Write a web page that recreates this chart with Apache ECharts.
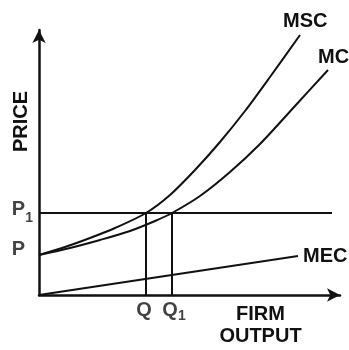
<!DOCTYPE html>
<html><head><meta charset="utf-8">
<script src="https://cdn.jsdelivr.net/npm/echarts@6/dist/echarts.min.js"></script>
<style>html,body{margin:0;padding:0;background:#fff}#c{width:349px;height:350px}</style>
</head><body><div id="c"></div>
<script>
// Values (x: firm output, y: price), arbitrary units
const P = 40;
const P1 = 82;
const Q = 107;
const Q1 = 133;
const P1_END = 293;
const MSC_X = [0, 26, 51, 76, 107, 131, 156, 181, 206, 231, 261];
const MSC_Y = [40, 48, 57, 67, 82, 100, 125, 153, 184, 218, 260];
const MC_X = [0, 31, 61, 91, 116, 133, 161, 191, 221, 256, 289];
const MC_Y = [40, 47, 55, 64, 74, 82, 99, 123, 151, 189, 225];
const MEC_X = [0, 259];
const MEC_Y = [0, 39];
const X_MAX = 301;
const Y_MAX = 265;

const FONT = "'Liberation Sans', Arial, sans-serif";
const INK = '#111';
const WEIGHT = 'bold';

function pairs(xs, ys) { return xs.map((x, i) => [x, ys[i]]); }
const lineStyle = { color: INK, width: 2 };
function lineSeries(data, smooth, endText, endOffset) {
  const s = { type: 'line', data: data, smooth: smooth, showSymbol: false,
    symbol: 'none', lineStyle: lineStyle, silent: true, animation: false, z: 3 };
  if (endText) {
    s.endLabel = { show: true, formatter: endText, offset: endOffset, color: INK,
      fontFamily: FONT, fontSize: 20, fontWeight: WEIGHT };
  }
  return s;
}
const rich = {
  a: { fontSize: 20, color: INK, fontFamily: FONT, fontWeight: WEIGHT },
  b: { fontSize: 14, color: INK, fontFamily: FONT, fontWeight: WEIGHT, padding: [12, 0, 0, 0] },
  c: { fontSize: 14, color: INK, fontFamily: FONT, fontWeight: WEIGHT, padding: [18, 0, 0, 0] }
};

const chart = echarts.init(document.getElementById('c'), null, { renderer: 'canvas' });
chart.setOption({
  animation: false,
  grid: { left: 39, top: 30, width: 301, height: 265, containLabel: false, outerBoundsMode: 'none' },
  xAxis: {
    type: 'value', min: 0, max: X_MAX,
    axisLine: { show: true, lineStyle: { color: INK, width: 2.5 }, symbol: ['none', 'arrow'], symbolSize: [10, 13] },
    axisTick: { show: false }, axisLabel: { show: false }, splitLine: { show: false },
    name: 'FIRM\nOUTPUT', nameLocation: 'middle', nameGap: 8,
    nameTextStyle: { color: INK, fontFamily: FONT, fontSize: 20, fontWeight: WEIGHT, lineHeight: 22, padding: [0, 0, 0, 142], verticalAlign: 'top' }
  },
  yAxis: {
    type: 'value', min: 0, max: Y_MAX,
    axisLine: { show: true, lineStyle: { color: INK, width: 2.5 }, symbol: ['none', 'arrow'], symbolSize: [10, 13] },
    axisTick: { show: false }, axisLabel: { show: false }, splitLine: { show: false },
    name: 'PRICE', nameLocation: 'middle', nameGap: 8, nameRotate: 90,
    nameTextStyle: { color: INK, fontFamily: FONT, fontSize: 20, fontWeight: WEIGHT, padding: [0, 0, 0, 82] }
  },
  series: [
    lineSeries(pairs(MSC_X, MSC_Y), 0.3, 'MSC', [-25, -14]),
    lineSeries(pairs(MC_X, MC_Y), 0.3, 'MC', [-18, -13]),
    lineSeries(pairs(MEC_X, MEC_Y), false, 'MEC', [-3, 0]),
    lineSeries([[0, P1], [P1_END, P1]], false),
    lineSeries([[Q, 0], [Q, P1]], false),
    lineSeries([[Q1, 0], [Q1, P1]], false),
    {
      type: 'scatter', symbolSize: 0, silent: true, animation: false,
      data: [
        { value: [Q, 0], label: { show: true, position: 'bottom', distance: 5, formatter: '{a|Q}', rich: rich, offset: [-2, 0] } },
        { value: [Q1, 0], label: { show: true, position: 'bottom', distance: 2, formatter: '{a|Q}{b|1}', rich: rich, offset: [2, 0] } },
        { value: [0, P], label: { show: true, position: 'left', distance: 14, formatter: '{a|P}', rich: rich, offset: [0, -6] } },
        { value: [0, P1], label: { show: true, position: 'left', distance: 6, formatter: '{a|P}{c|1}', rich: rich, offset: [0, -4] } }
      ]
    }
  ]
});
</script></body></html>
